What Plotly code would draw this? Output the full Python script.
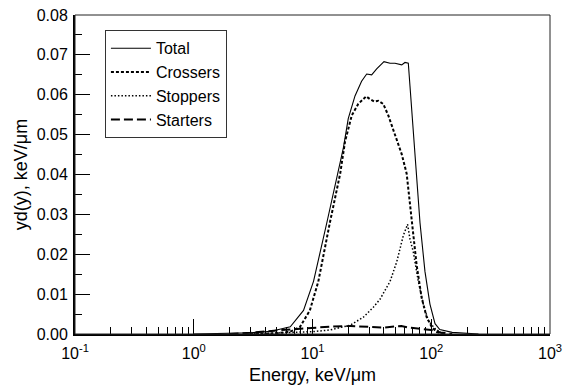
import plotly.graph_objects as go

# ---- data ----
x_total = [1.0, 2.0, 3.0, 4.5, 6.5, 8.4, 10.2, 13.2, 16.5, 18.2, 20.0, 22.8, 25.9, 28.6, 31.5,
           34.7, 40.0, 45.0, 49.5, 56.4, 60.1, 64.1, 66.2, 70.6, 75.3, 80.4, 88.5, 97.5,
           107.6, 118.0, 150.0, 200.0, 250.0]
y_total = [0.0, 0.0001, 0.0003, 0.0007, 0.0018, 0.0059, 0.0132, 0.0279, 0.0410, 0.0467, 0.0540,
           0.0597, 0.0634, 0.0652, 0.0650, 0.0665, 0.0683, 0.0679, 0.0679, 0.0675, 0.0681,
           0.0679, 0.0622, 0.0516, 0.0402, 0.0279, 0.0157, 0.0075, 0.0026, 0.0011, 0.0004,
           0.0002, 0.0]

x_cross = [3.0, 5.0, 6.5, 7.85, 9.5, 11.2, 14.0, 17.1, 18.8, 21.4, 24.3, 28.3, 30.5, 33.1,
           35.8, 39.4, 43.5, 49.5, 56.4, 62.1, 68.4, 75.3, 83.0, 91.5, 100.9, 111.0, 130.0]
y_cross = [0.0, 0.0002, 0.0006, 0.0018, 0.0059, 0.0132, 0.0279, 0.0402, 0.0483, 0.0548,
           0.0577, 0.0596, 0.0589, 0.0583, 0.0585, 0.0577, 0.0548, 0.0500, 0.0451, 0.0402,
           0.0279, 0.0173, 0.0091, 0.0042, 0.0018, 0.0005, 0.0]

x_stop = [3.0, 6.0, 10.0, 14.0, 20.7, 26.8, 32.5, 37.0, 45.0, 51.2, 58.2, 63.2, 66.2, 70.6,
          77.8, 85.7, 94.4, 107.0, 125.0]
y_stop = [0.0, 0.0003, 0.0006, 0.0010, 0.0022, 0.0042, 0.0067, 0.0087, 0.0132, 0.0181,
          0.0247, 0.0275, 0.0238, 0.0206, 0.0132, 0.0075, 0.0034, 0.0014, 0.0]

x_start = [2.0, 3.0, 5.0, 7.0, 10.0, 15.0, 21.0, 30.0, 40.0, 50.0, 56.0, 65.0, 80.0, 100.0,
           120.0, 150.0]
y_start = [0.0, 0.0003, 0.0009, 0.0012, 0.0015, 0.0019, 0.0020, 0.0018, 0.0016, 0.0019,
           0.0020, 0.0016, 0.0013, 0.0010, 0.0004, 0.0]

x_tickvals = [0.1, 1, 10, 100, 1000]
x_ticktext = ["10<sup>-1</sup>", "10<sup>0</sup>", "10<sup>1</sup>", "10<sup>2</sup>", "10<sup>3</sup>"]
y_tickvals = [0.0, 0.01, 0.02, 0.03, 0.04, 0.05, 0.06, 0.07, 0.08]
y_ticktext = ["0.00", "0.01", "0.02", "0.03", "0.04", "0.05", "0.06", "0.07", "0.08"]

# minor tick positions (axis decoration)
x_minor = [m * d for d in (0.1, 1, 10, 100) for m in range(2, 10)]
y_minor = [0.005 + 0.01 * i for i in range(8)]

FONT = "Liberation Sans, Arial, sans-serif"

fig = go.Figure()
fig.add_trace(go.Scatter(x=x_total, y=y_total, mode="lines", name="Total",
                         line=dict(color="black", width=1.1)))
fig.add_trace(go.Scatter(x=x_cross, y=y_cross, mode="lines", name="Crossers",
                         line=dict(color="black", width=2, dash="3px,2px")))
fig.add_trace(go.Scatter(x=x_stop, y=y_stop, mode="lines", name="Stoppers",
                         line=dict(color="black", width=1.5, dash="1.5px,2px")))
fig.add_trace(go.Scatter(x=x_start, y=y_start, mode="lines", name="Starters",
                         line=dict(color="black", width=2, dash="9px,4px")))

fig.update_layout(
    width=570, height=389,
    margin=dict(l=75, r=20, t=7, b=55),
    plot_bgcolor="white", paper_bgcolor="white",
    font=dict(family=FONT, color="black", size=16),
    showlegend=True,
    legend=dict(x=0.063, y=0.952, xanchor="left", yanchor="top",
                bgcolor="white", bordercolor="#333", borderwidth=1,
                itemwidth=40,
                font=dict(size=16, family=FONT)),
    shapes=[dict(type="rect", xref="paper", yref="paper", x0=0, y0=0, x1=1, y1=1,
                 line=dict(color="#222", width=1), layer="above")],
)

fig.update_xaxes(
    type="log", range=[-1, 3],
    tickmode="array", tickvals=x_tickvals, ticktext=x_ticktext,
    ticks="inside", ticklen=15, tickwidth=1, tickcolor="black",
    showline=True, linecolor="black", linewidth=2, mirror=False,
    showgrid=False, zeroline=False,
    minor=dict(tickmode="array", tickvals=x_minor, ticks="inside", ticklen=7,
               tickwidth=1, tickcolor="black", showgrid=False),
    tickfont=dict(size=16), ticklabelstandoff=4, ticklabeloverflow="allow",
    title=dict(text="Energy, keV/\u03bcm", font=dict(size=18), standoff=7),
)
fig.update_yaxes(
    range=[0, 0.08],
    tickmode="array", tickvals=y_tickvals, ticktext=y_ticktext,
    ticks="inside", ticklen=15, tickwidth=1, tickcolor="black",
    showline=True, linecolor="black", linewidth=2, mirror=False,
    showgrid=False, zeroline=False,
    minor=dict(tickmode="array", tickvals=y_minor, ticks="inside", ticklen=7,
               tickwidth=1, tickcolor="black", showgrid=False),
    tickfont=dict(size=16), ticklabelstandoff=2, ticklabeloverflow="allow",
    title=dict(text="yd(y), keV/\u03bcm", font=dict(size=18), standoff=4),
)

fig.write_html("out.html", config={"displayModeBar": False},
               post_script="document.body.style.margin='0';")
